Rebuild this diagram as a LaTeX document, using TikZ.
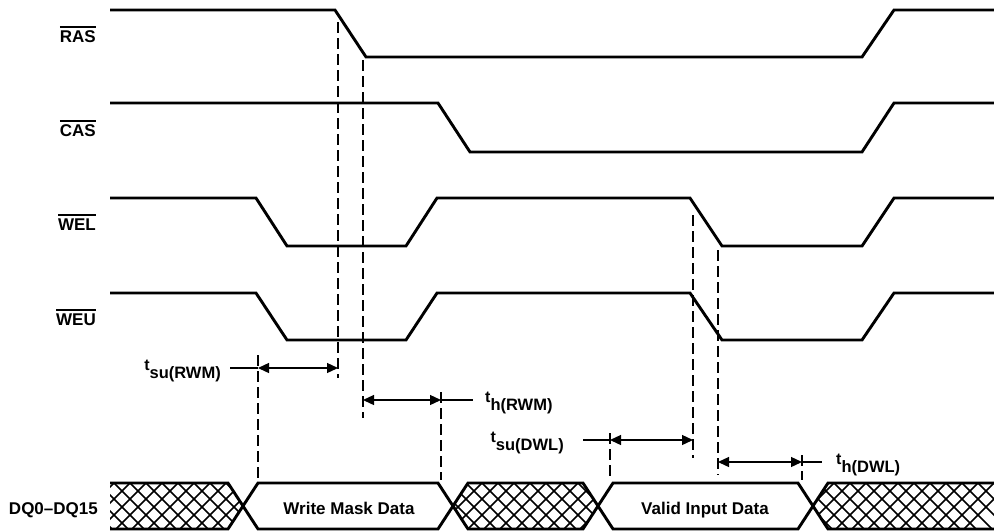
\documentclass[tikz,border=0pt]{standalone}
\usepackage{fontspec}
\setmainfont{Liberation Sans}
\usetikzlibrary{arrows.meta}
\newcommand{\ovbar}[1]{\leavevmode\vbox{\hrule height 1.4pt\kern 2.6pt\hbox{#1}}}
\newcommand{\tlab}[2]{{\fontsize{16}{18}\selectfont t}\raisebox{-8pt}{\fontsize{16.5}{18}\selectfont #1(#2)}}
\begin{document}
\begin{tikzpicture}[x=1pt,y=-1pt,
  sig/.style={line width=2.9pt},
  dashln/.style={line width=1.3pt, dash pattern=on 11pt off 5pt},
  dim/.style={line width=1.3pt, {Triangle[length=11pt,width=10pt]}-{Triangle[length=11pt,width=10pt]}},
  lead/.style={line width=1.3pt},
  hatch/.style={line width=1.6pt},
  lbl/.style={font=\fontsize{17}{20}\selectfont\bfseries, inner sep=0pt},
  tl/.style={font=\bfseries, inner sep=0pt}]
\useasboundingbox (0,0) rectangle (994,531);
\fill[white] (0,0) rectangle (994,531);

% signal labels
\node[lbl, anchor=base east] (ras) at (96,42) {\ovbar{RAS}};
\node[lbl, anchor=base east] (cas) at (96,136) {\ovbar{CAS}};
\node[lbl, anchor=base east] (wel) at (96,230) {\ovbar{WEL}};
\node[lbl, anchor=base east] (weu) at (96,325) {\ovbar{WEU}};
\node[lbl, anchor=base east] (dq) at (98,514) {DQ0--DQ15};

% waveforms
\draw[sig] (110,10) -- (335,10) -- (366,57) -- (862,57) -- (894,10) -- (994,10);
\draw[sig] (110,103) -- (438,103) -- (470,152) -- (862,152) -- (894,103) -- (994,103);
\draw[sig] (110,198) -- (256,198) -- (287,246) -- (406,246) -- (437,198) -- (690,198) -- (722,246) -- (862,246) -- (894,198) -- (994,198);
\draw[sig] (110,293) -- (256,293) -- (287,340) -- (406,340) -- (437,293) -- (690,293) -- (722,340) -- (862,340) -- (894,293) -- (994,293);

% hatched bus regions
\begin{scope}
\clip (110,483) -- (228,483) -- (243,506) -- (228,529) -- (110,529) -- cycle;
\foreach \i in {2,18,...,1010} {\draw[hatch] (\i,483) -- ++(50,50); \draw[hatch] (\i,483) -- ++(-50,50);}
\end{scope}
\begin{scope}
\clip (453,506) -- (468,483) -- (583,483) -- (598,506) -- (583,529) -- (468,529) -- cycle;
\foreach \i in {2,18,...,1010} {\draw[hatch] (\i,483) -- ++(50,50); \draw[hatch] (\i,483) -- ++(-50,50);}
\end{scope}
\begin{scope}
\clip (813,506) -- (828,483) -- (994,483) -- (994,529) -- (828,529) -- cycle;
\foreach \i in {2,18,...,1010} {\draw[hatch] (\i,483) -- ++(50,50); \draw[hatch] (\i,483) -- ++(-50,50);}
\end{scope}
\draw[sig] (110,483) -- (228,483) -- (258,529) -- (438,529) -- (468,483) -- (583,483) -- (613,529) -- (798,529) -- (828,483) -- (994,483);
\draw[sig] (110,529) -- (228,529) -- (258,483) -- (438,483) -- (468,529) -- (583,529) -- (613,483) -- (798,483) -- (828,529) -- (994,529);
\node[lbl, anchor=base] (wmd) at (349,514) {Write Mask Data};
\node[lbl, anchor=base] (vid) at (705,514) {Valid Input Data};

% dashed reference lines
\coordinate (d1t) at (338,22);  \coordinate (d1b) at (338,378);
\coordinate (d2t) at (363,60);  \coordinate (d2b) at (363,418);
\coordinate (d3t) at (258,355); \coordinate (d3b) at (258,480);
\coordinate (d4t) at (441,392); \coordinate (d4b) at (441,480);
\coordinate (d5t) at (693,215); \coordinate (d5b) at (693,458);
\coordinate (d6t) at (718,250); \coordinate (d6b) at (718,475);
\coordinate (d7t) at (610,433); \coordinate (d7b) at (610,480);
\coordinate (d8t) at (802,455); \coordinate (d8b) at (802,480);
\foreach \k in {1,...,8} {\draw[dashln] (d\k t) -- (d\k b);}

% timing arrows
\coordinate (a1l) at (258,368); \coordinate (a1r) at (338,368);
\coordinate (a2l) at (363,400); \coordinate (a2r) at (441,400);
\coordinate (a3l) at (610,440); \coordinate (a3r) at (693,440);
\coordinate (a4l) at (718,462); \coordinate (a4r) at (802,462);
\draw[dim] (a1l) -- (a1r);
\draw[dim] (a2l) -- (a2r);
\draw[dim] (a3l) -- (a3r);
\draw[dim] (a4l) -- (a4r);

% labels and leaders
\node[tl, anchor=base east] (tsurwm) at (221,370) {\tlab{su}{RWM}};
\node[tl, anchor=base west] (thrwm) at (485,402) {\tlab{h}{RWM}};
\node[tl, anchor=base east] (tsudwl) at (564,442) {\tlab{su}{DWL}};
\node[tl, anchor=base west] (thdwl) at (836,464) {\tlab{h}{DWL}};
\coordinate (l1) at (230,368);
\coordinate (l2) at (473,400);
\coordinate (l3) at (583,440);
\coordinate (l4) at (822,462);
\draw[lead] (l1) -- (a1l);
\draw[lead] (a2r) -- (l2);
\draw[lead] (l3) -- (a3l);
\draw[lead] (a4r) -- (l4);
\end{tikzpicture}
\end{document}
